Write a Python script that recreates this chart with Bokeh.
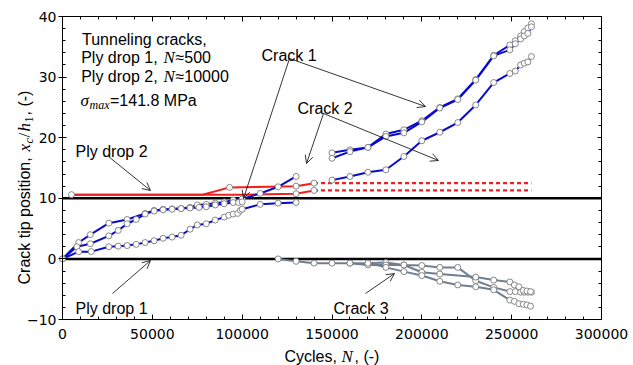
import numpy as np
from bokeh.plotting import figure
from bokeh.models import (Label, Arrow, OpenHead, LinearAxis, Range1d,
                          SingleIntervalTicker, NumeralTickFormatter,
                          CustomJSTickFormatter)
from bokeh.embed import file_html
from bokeh.resources import INLINE

# ---------------- data: cycles N and crack tip position x_c/h_1 ----------------
# Cracks growing from Ply drop 1 towards Ply drop 2 (blue)
n_tip_a = [0, 9000, 15500, 25800, 36000, 46000, 51000, 56000, 61000, 66000, 71000,
           75000, 80000, 85000, 90000, 95000, 100000, 110000, 120000, 130000]
x_tip_a = [0, 2.7, 4.0, 5.9, 6.5, 7.5, 8.0, 8.2, 8.25, 8.35, 8.5,
           8.9, 9.0, 9.2, 9.4, 9.7, 9.9, 10.8, 11.9, 13.6]

n_tip_b = [0, 8000, 15500, 25800, 31000, 36000, 41000, 46000, 51000, 56000, 61000,
           66000, 71000, 76000, 80000, 85000, 90000, 95000, 98000, 100000]
x_tip_b = [0, 2.0, 2.5, 3.8, 4.7, 5.8, 6.5, 7.4, 7.9, 8.1, 8.2,
           8.3, 8.4, 8.5, 8.6, 8.9, 9.1, 9.3, 9.3, 9.4]

n_tip_c = [0, 9000, 16000, 25800, 31000, 36000, 41000, 46000, 51000, 56000, 61000,
           66000, 71000, 75000, 80000, 85000, 90000, 92500, 95000, 97500, 99000,
           100000, 110000, 120000, 130000]
x_tip_c = [0, 1.2, 1.2, 2.0, 2.1, 2.2, 2.4, 2.7, 3.0, 3.4, 3.6,
           3.9, 4.9, 5.6, 5.8, 6.4, 6.9, 7.2, 7.4, 7.5, 8.0,
           8.2, 9.0, 9.2, 9.3]

# Cracks beyond Ply drop 2 (blue)
n_far = [150000, 160000, 170000, 180000, 190000, 200000, 210000, 220000, 230000,
         240000, 249000, 252000, 255000, 257000, 259000, 261000]
x_crack1_a = [17.5, 18.0, 18.4, 20.6, 21.3, 22.8, 25.0, 26.4, 29.6,
              33.6, 35.3, 36.0, 36.8, 37.5, 38.1, 38.8]
x_crack1_b = [16.6, 17.7, 18.4, 20.2, 20.8, 22.6, 24.9, 26.3, 29.5,
              33.5, 34.5, 35.5, 36.3, 36.8, 37.2, 38.3]
x_crack2 = [13.0, 13.6, 14.3, 14.7, 16.9, 19.5, 20.9, 22.5, 25.4,
            29.1, 30.6, 31.0, 32.0, 32.3, 32.5, 33.4]

# Delamination along Ply drop 2 (red); dashed continuation to the last cycle count
n_red_1 = [5000, 78000, 93000, 130000, 140000]
x_red_1 = [10.6, 10.6, 11.8, 12.0, 12.5]
n_red_2 = [5000, 100000, 130000, 140000]
x_red_2 = [10.6, 10.6, 10.75, 11.3]
n_last = 261000

# Crack 3, growing below Ply drop 1 (grey)
n_c3_a = [120000, 130000, 140000, 150000, 160000, 170000, 180000, 190000, 200000,
          210000, 220000, 230000, 240000, 249000, 252000, 255000, 257000, 259000, 261000]
x_c3_a = [0, -0.4, -0.7, -0.7, -0.7, -0.7, -0.6, -1.0, -1.1,
          -1.4, -1.4, -3.6, -4.7, -5.4, -5.4, -5.5, -5.5, -5.5, -5.5]
n_c3_b = [160000, 170000, 180000, 190000, 200000, 210000, 230000, 240000, 249000,
          251500, 254000, 256500, 258500, 260500]
x_c3_b = [-0.7, -1.0, -1.0, -1.0, -2.2, -2.5, -3.0, -3.5, -3.8,
          -4.3, -4.6, -5.2, -5.3, -5.4]
n_c3_c = [170000, 180000, 190000, 200000, 210000, 220000, 230000, 240000, 249000,
          251500, 254000, 256500, 258500, 260500]
x_c3_c = [-0.7, -1.4, -2.1, -2.75, -3.7, -4.3, -4.6, -5.1, -6.8,
          -7.0, -7.4, -7.5, -7.6, -7.8]

ply_drop_levels = [0, 10]

x_major = 50000
y_major = 10

# ---------------- figure ----------------
# The frame spans the whole canvas; the axes box (pixels L..R, T..B) is drawn
# with fixed-location axes so that titles made of mixed fonts can sit outside it.
L, R, T, B = 62, 601, 16, 319
W, H = 633, 365
X_MAX, Y_MIN, Y_MAX = 300000, -10, 40

sx = X_MAX / (R - L)               # cycles per pixel
sy = (Y_MAX - Y_MIN) / (B - T)     # units per pixel

p = figure(width=W, height=H,
           x_range=Range1d(-L * sx, X_MAX + (W - R) * sx),
           y_range=Range1d(Y_MIN - (H - B) * sy, Y_MAX + T * sy),
           x_axis_type=None, y_axis_type=None,
           output_backend="svg", toolbar_location=None,
           min_border=0, min_border_left=0, min_border_right=0,
           min_border_top=0, min_border_bottom=0)
p.xgrid.visible = False
p.ygrid.visible = False
p.outline_line_color = None
p.background_fill_color = "white"
p.border_fill_color = "white"


def xd(px):
    return (px - L) * sx


def yd(py):
    return Y_MAX - (py - T) * sy


tick_font = "DejaVu Sans"
blank = CustomJSTickFormatter(code="return '';")


def make_axis(fixed, bounds, interval, formatter, tin, tout, labelled, standoff):
    ax = LinearAxis(fixed_location=fixed, bounds=bounds,
                    ticker=SingleIntervalTicker(interval=interval, num_minor_ticks=5),
                    formatter=formatter if labelled else blank,
                    major_tick_in=tin, major_tick_out=tout,
                    minor_tick_in=3, minor_tick_out=0,
                    major_label_standoff=standoff,
                    major_label_text_font=tick_font,
                    major_label_text_font_size="14px" if labelled else "1px",
                    major_label_text_color="black",
                    axis_line_color="black", axis_line_width=1,
                    major_tick_line_color="black", minor_tick_line_color="black")
    return ax


y_fmt = CustomJSTickFormatter(code="return tick < 0 ? '\u2212' + (-tick) : '' + tick;")
x_fmt = NumeralTickFormatter(format="0")

p.add_layout(make_axis(Y_MIN, (0, X_MAX), x_major, x_fmt, 5, 0, True, 9), "below")
p.add_layout(make_axis(0, (Y_MIN, Y_MAX), y_major, y_fmt, 4, 4, True, 2), "left")
p.add_layout(make_axis(Y_MAX, (0, X_MAX), x_major, x_fmt, 5, 0, False, 0), "above")
p.add_layout(make_axis(X_MAX, (Y_MIN, Y_MAX), y_major, y_fmt, 4, 0, False, 0), "right")

BLUE = "#0a0acf"
RED = "#f21d1d"
GREY = "#6f7f92"
EDGE = "#7a7a7a"
marker_kw = dict(marker="circle", size=6, fill_color="white", line_color=EDGE,
                 line_width=0.9)

# ply drop reference lines
for lvl in ply_drop_levels:
    p.line([0, X_MAX], [lvl, lvl], line_color="black", line_width=2.5)

# red delamination lines + dashed continuation
for n, x in ((n_red_1, x_red_1), (n_red_2, x_red_2)):
    p.line(n, x, line_color=RED, line_width=2)
    p.line([n[-1], n_last], [x[-1], x[-1]], line_color=RED, line_width=2.2,
           line_dash="4 3")

# grey crack 3
for n, x in ((n_c3_a, x_c3_a), (n_c3_b, x_c3_b), (n_c3_c, x_c3_c)):
    p.line(n, x, line_color=GREY, line_width=2)

# blue cracks
for n, x in ((n_tip_a, x_tip_a), (n_tip_b, x_tip_b), (n_tip_c, x_tip_c),
             (n_far, x_crack1_a), (n_far, x_crack1_b), (n_far, x_crack2)):
    p.line(n, x, line_color=BLUE, line_width=2)

# markers
for n, x in ((n_c3_a, x_c3_a), (n_c3_b, x_c3_b), (n_c3_c, x_c3_c),
             (n_tip_a, x_tip_a), (n_tip_b, x_tip_b), (n_tip_c, x_tip_c),
             (n_far, x_crack1_a), (n_far, x_crack1_b), (n_far, x_crack2)):
    p.scatter(n, x, **marker_kw)
p.scatter([n_red_1[0], n_red_1[2], n_red_1[3], n_red_1[4], n_red_2[2], n_red_2[3]],
          [x_red_1[0], x_red_1[2], x_red_1[3], x_red_1[4], x_red_2[2], x_red_2[3]],
          **marker_kw)

# ---------------- text ----------------
SANS = "Liberation Sans"
SERIF = "Liberation Serif"


def txt(px, py, s, size=16, font=SANS, style="normal", angle=0.0):
    p.add_layout(Label(x=xd(px), y=yd(py), text=s, text_font=font,
                       text_font_size=f"{size}px", text_font_style=style,
                       text_color="black", text_align="left",
                       text_baseline="alphabetic", angle=angle))


txt(81.5, 39.2, "Tunneling cracks,")
txt(80.7, 57.2, "Ply drop 1, ")
txt(163, 57.2, "N", font=SERIF, style="italic", size=17)
txt(175, 57.2, "\u2248500")
txt(80.7, 75.6, "Ply drop 2, ")
txt(163, 75.6, "N", font=SERIF, style="italic", size=17)
txt(175, 75.6, "\u224810000")
txt(80, 100, "\u03c3", font=SERIF, style="italic", size=17)
txt(89, 104, "max", font=SERIF, style="italic", size=12)
txt(109.5, 100, "=141.8 MPa")

txt(261, 54.5, "Crack 1")
txt(297, 107.5, "Crack 2")
txt(75, 150.5, "Ply drop 2")
txt(75, 308, "Ply drop 1")
txt(333, 308, "Crack 3")

# axis titles
txt(284, 356, "Cycles, ")
txt(341, 356, "N", font=SERIF, style="italic", size=17)
txt(354, 356, ", (-)")

ang = np.pi / 2
txt(24, 284, "Crack tip position, ", angle=ang)
txt(24, 151, "x", font=SERIF, style="italic", size=17, angle=ang)
txt(28, 143, "c", font=SERIF, style="italic", size=12, angle=ang)
txt(24, 137, "/", font=SERIF, size=17, angle=ang)
txt(24, 131, "h", font=SERIF, style="italic", size=17, angle=ang)
txt(28, 122, "1", font=SERIF, size=12, angle=ang)
txt(24, 115, ", (-)", angle=ang)

# ---------------- arrows ----------------
arrows = [
    ((108, 156), (150, 190)),        # Ply drop 2
    ((112, 293), (150, 260)),        # Ply drop 1
    ((289, 58), (243, 198)),         # Crack 1
    ((289, 58), (425, 106)),
    ((323, 113), (306, 163)),        # Crack 2
    ((323, 113), (438, 160)),
    ((365, 293), (394, 273)),        # Crack 3
]
for (ax0, ay0), (ax1, ay1) in arrows:
    p.add_layout(Arrow(x_start=xd(ax0), y_start=yd(ay0), x_end=xd(ax1), y_end=yd(ay1),
                       line_width=0.8, line_color="black",
                       end=OpenHead(size=8, line_width=0.8, line_color="black")))

open("out.html", "w").write(file_html(p, INLINE))
